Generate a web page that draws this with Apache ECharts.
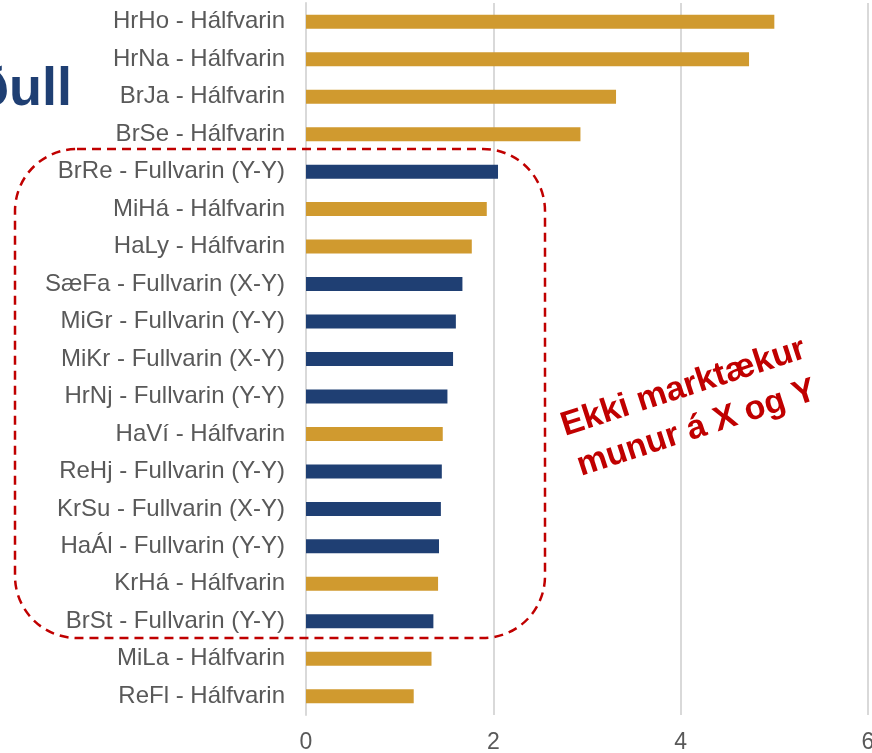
<!DOCTYPE html>
<html>
<head>
    <meta charset="utf-8">
    <title>ECharts</title>
    <script src="https://cdn.jsdelivr.net/npm/echarts@6/dist/echarts.min.js"></script>
    <style>
        html, body { margin: 0; padding: 0; background: #fff; }
    </style>
</head>
<body>
    <div id="main" style="width: 872px;height:753px;"></div>
    <script type="text/javascript">
        var dom = document.getElementById('main');
        var myChart = echarts.init(dom);

        // categories, top to bottom
        var categories = [
            'HrHo - Hálfvarin', 'HrNa - Hálfvarin', 'BrJa - Hálfvarin', 'BrSe - Hálfvarin',
            'BrRe - Fullvarin (Y-Y)', 'MiHá - Hálfvarin', 'HaLy - Hálfvarin', 'SæFa - Fullvarin (X-Y)',
            'MiGr - Fullvarin (Y-Y)', 'MiKr - Fullvarin (X-Y)', 'HrNj - Fullvarin (Y-Y)', 'HaVí - Hálfvarin',
            'ReHj - Fullvarin (Y-Y)', 'KrSu - Fullvarin (X-Y)', 'HaÁl - Fullvarin (Y-Y)', 'KrHá - Hálfvarin',
            'BrSt - Fullvarin (Y-Y)', 'MiLa - Hálfvarin', 'ReFl - Hálfvarin'
        ];
        var values = [
            5.00, 4.73, 3.31, 2.93,
            2.05, 1.93, 1.77, 1.67,
            1.60, 1.57, 1.51, 1.46,
            1.45, 1.44, 1.42, 1.41,
            1.36, 1.34, 1.15
        ];
        // 'H' = Hálfvarin, 'F' = Fullvarin
        var kinds = ['H', 'H', 'H', 'H', 'F', 'H', 'H', 'F', 'F', 'F', 'F', 'H', 'F', 'F', 'F', 'H', 'F', 'H', 'H'];
        var xTicks = [0, 2, 4, 6];

        var kindColor = { H: '#D09A2F', F: '#1F3F73' };
        var barData = values.map(function (v, i) {
            return { value: v, itemStyle: { color: kindColor[kinds[i]] } };
        });

        var option = {
            animation: false,
            grid: {
                left: 306,
                right: 4,
                top: 3,
                bottom: 38,
                containLabel: false,
                outerBoundsMode: 'none'
            },
            xAxis: {
                type: 'value',
                min: xTicks[0],
                max: xTicks[xTicks.length - 1],
                interval: 2,
                axisLine: { show: false },
                axisTick: { show: false },
                splitLine: {
                    lineStyle: { color: '#D9D9D9', width: 2 }
                },
                axisLabel: {
                    color: '#595959',
                    fontSize: 23,
                    fontFamily: 'Liberation Sans',
                    margin: 16
                }
            },
            yAxis: {
                type: 'category',
                inverse: true,
                data: categories,
                axisLine: { show: true, lineStyle: { color: '#D9D9D9', width: 2 } },
                axisTick: { show: false },
                axisLabel: {
                    color: '#595959',
                    fontSize: 24,
                    fontFamily: 'Liberation Sans',
                    margin: 21
                }
            },
            series: [{
                type: 'bar',
                barWidth: 14,
                data: barData
            }],
            graphic: [
                {
                    type: 'text',
                    right: 800,
                    top: 63,
                    style: {
                        text: 'ðull',
                        fill: '#1F3F73',
                        font: 'bold 54px "Liberation Sans"'
                    }
                },
                {
                    type: 'rect',
                    shape: { x: 15, y: 149, width: 530, height: 489, r: 62 },
                    style: {
                        fill: 'none',
                        stroke: '#C00000',
                        lineWidth: 2.5,
                        lineDash: [9, 6]
                    },
                    z: 10
                },
                {
                    type: 'text',
                    x: 690,
                    y: 408,
                    rotation: 18 * Math.PI / 180,
                    style: {
                        text: 'Ekki marktækur\nmunur á X og Y',
                        fill: '#C00000',
                        font: 'bold 34px "Liberation Sans"',
                        align: 'center',
                        verticalAlign: 'middle',
                        lineHeight: 43
                    },
                    z: 10
                }
            ]
        };

        myChart.setOption(option);
    </script>
</body>
</html>
